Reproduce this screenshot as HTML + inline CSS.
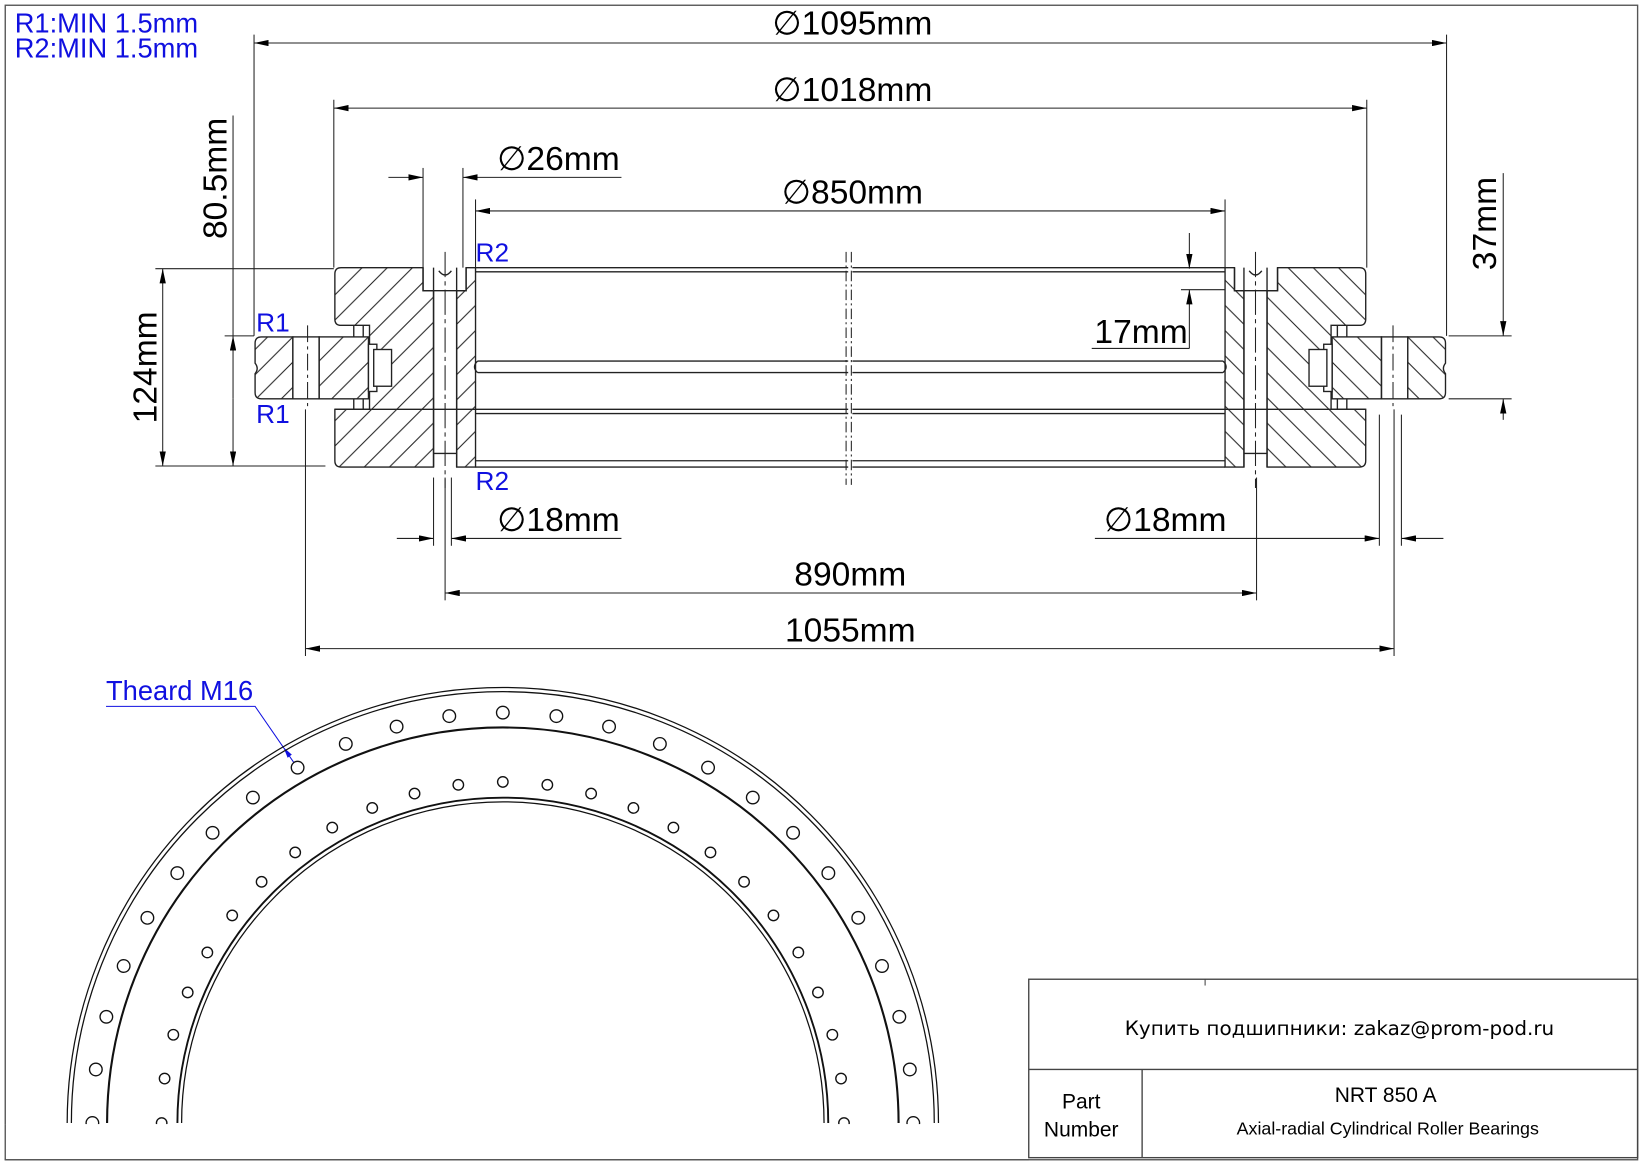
<!DOCTYPE html>
<html><head><meta charset="utf-8"><style>
html,body{margin:0;padding:0;background:#fff;}
svg{display:block;}
text{font-family:"Liberation Sans",sans-serif;}
</style></head><body>
<svg width="1646" height="1165" viewBox="0 0 1568 1110" preserveAspectRatio="none" xmlns="http://www.w3.org/2000/svg">
<defs>
<pattern id="h" patternUnits="userSpaceOnUse" width="24" height="24">
<path d="M-2,26 L26,-2 M-8,8 L8,-8 M16,32 L32,16" stroke="#222" stroke-width="1"/>
</pattern>
<marker id="a" viewBox="0 0 14 6" refX="14" refY="3" markerWidth="14" markerHeight="6" markerUnits="userSpaceOnUse" orient="auto-start-reverse">
<path d="M0,0 L14,3 L0,6 Z" fill="#000"/>
</marker>
<g id="half" stroke="#222" stroke-width="1.3" fill="none">
<path d="M325,255 H403 V277 H413 V445 H325 Q319,445 319,439 V390 H352 V310 H325 Q319,310 319,304 V261 Q319,255 325,255 Z" fill="url(#h)"/>
<path d="M444,255 H453 V445 H435 V277 H444 Z" fill="url(#h)"/>
<path d="M403,255 V277 H444 V255" />
<line x1="413" y1="255" x2="413" y2="445"/>
<line x1="435" y1="255" x2="435" y2="445"/>
<line x1="413" y1="432" x2="435" y2="432"/>
<path d="M418,258 Q424,266 430,258" />
<line x1="319" y1="390" x2="453" y2="390"/>
<path d="M337,310 V321 M337,380 V390 M346,310 V321 M346,380 V390"/>
<path d="M249,321 H279 V380 H249 Q243,380 243,374 V356 Q247,351 243,346 V327 Q243,321 249,321 Z" fill="url(#h)"/>
<rect x="279" y="321" width="25" height="59" fill="#fff"/>
<rect x="304" y="321" width="47" height="59" fill="url(#h)"/>
<rect x="351" y="328" width="8" height="45" fill="#fff"/>
<rect x="356" y="333" width="17" height="35" fill="#fff"/>
<line x1="293" y1="310" x2="293" y2="390" stroke-dasharray="16,4,3,4" stroke-width="1"/>
<line x1="424" y1="240" x2="424" y2="465" stroke-dasharray="24,4,4,4" stroke-width="1"/>
<path d="M453,255 H808 M453,259 H808 M455,344 H808 M455,355 H808 M453,390 H808 M453,394 H808 M453,439 H808 M453,445 H808"/>
<path d="M455,344 Q449,349.5 455,355" />
</g>
</defs>
<rect x="5" y="5" width="1555" height="1100" fill="none" stroke="#555" stroke-width="1.3"/>

<use href="#half"/>
<use href="#half" transform="translate(1620,0) scale(-1,1)"/>
<g stroke="#222" stroke-width="1" stroke-dasharray="10,3,2,3">
<line x1="806" y1="240" x2="806" y2="462"/><line x1="811" y1="240" x2="811" y2="462"/>
</g>

<g stroke="#222" stroke-width="1" fill="none">
<line x1="242" y1="41" x2="1378" y2="41" marker-start="url(#a)" marker-end="url(#a)"/>
<line x1="242" y1="33" x2="242" y2="320"/><line x1="1378" y1="33" x2="1378" y2="320"/>
<line x1="318" y1="103" x2="1302" y2="103" marker-start="url(#a)" marker-end="url(#a)"/>
<line x1="318" y1="95" x2="318" y2="255"/><line x1="1302" y1="95" x2="1302" y2="255"/>
<line x1="370" y1="169" x2="403" y2="169" marker-end="url(#a)"/>
<line x1="592" y1="169" x2="441" y2="169" marker-end="url(#a)"/>
<line x1="403" y1="160" x2="403" y2="255"/><line x1="441" y1="160" x2="441" y2="255"/>
<line x1="453" y1="201" x2="1167" y2="201" marker-start="url(#a)" marker-end="url(#a)"/>
<line x1="453" y1="190" x2="453" y2="255"/><line x1="1167" y1="190" x2="1167" y2="255"/>
<line x1="1133" y1="222" x2="1133" y2="256" marker-end="url(#a)"/>
<line x1="1133" y1="332" x2="1133" y2="276" marker-end="url(#a)"/>
<line x1="1125" y1="276" x2="1167" y2="276"/>
<line x1="1040" y1="332" x2="1133" y2="332"/>
<line x1="1432" y1="165" x2="1432" y2="320" marker-end="url(#a)"/>
<line x1="1432" y1="400" x2="1432" y2="380" marker-end="url(#a)"/>
<line x1="1380" y1="320" x2="1440" y2="320"/><line x1="1380" y1="380" x2="1440" y2="380"/>
<line x1="222" y1="110" x2="222" y2="320"/>
<line x1="222" y1="380" x2="222" y2="320" marker-end="url(#a)"/>
<line x1="222" y1="380" x2="222" y2="444" marker-end="url(#a)"/>
<line x1="214" y1="320" x2="242" y2="320"/>
<line x1="155" y1="256" x2="155" y2="444" marker-start="url(#a)" marker-end="url(#a)"/>
<line x1="148" y1="256" x2="318" y2="256"/><line x1="148" y1="444" x2="310" y2="444"/>
<line x1="378" y1="513" x2="413" y2="513" marker-end="url(#a)"/>
<line x1="592" y1="513" x2="430" y2="513" marker-end="url(#a)"/>
<line x1="413" y1="455" x2="413" y2="520"/><line x1="430" y1="455" x2="430" y2="520"/>
<line x1="1043" y1="513" x2="1314" y2="513" marker-end="url(#a)"/>
<line x1="1375" y1="513" x2="1335" y2="513" marker-end="url(#a)"/>
<line x1="1314" y1="395" x2="1314" y2="520"/><line x1="1335" y1="395" x2="1335" y2="520"/>
<line x1="424" y1="565" x2="1197" y2="565" marker-start="url(#a)" marker-end="url(#a)"/>
<line x1="424" y1="455" x2="424" y2="572"/><line x1="1197" y1="455" x2="1197" y2="572"/>
<line x1="291" y1="618" x2="1328" y2="618" marker-start="url(#a)" marker-end="url(#a)"/>
<line x1="291" y1="390" x2="291" y2="625"/><line x1="1328" y1="390" x2="1328" y2="625"/>
</g>
<g font-size="32" fill="#000">
<text x="812" y="33" text-anchor="middle">∅1095mm</text>
<text x="812" y="96" text-anchor="middle">∅1018mm</text>
<text x="532" y="162" text-anchor="middle">∅26mm</text>
<text x="812" y="194" text-anchor="middle">∅850mm</text>
<text x="1087" y="327" text-anchor="middle">17mm</text>
<text x="532" y="506" text-anchor="middle">∅18mm</text>
<text x="1110" y="506" text-anchor="middle">∅18mm</text>
<text x="810" y="558" text-anchor="middle">890mm</text>
<text x="810" y="611" text-anchor="middle">1055mm</text>
<text transform="translate(216,170) rotate(-90)" text-anchor="middle">80.5mm</text>
<text transform="translate(149,350) rotate(-90)" text-anchor="middle">124mm</text>
<text transform="translate(1425,213) rotate(-90)" text-anchor="middle">37mm</text>
</g>
<g font-size="26" fill="#1010e0">
<text x="14" y="31">R1:MIN 1.5mm</text>
<text x="14" y="55">R2:MIN 1.5mm</text>
<text x="101" y="667">Theard M16</text>
</g>
<g font-size="25" fill="#1010e0">
<text x="453" y="249">R2</text>
<text x="453" y="467">R2</text>
<text x="244" y="316">R1</text>
<text x="244" y="403">R1</text>
</g>
<path d="M101,673 H243 L283,731" stroke="#1010e0" stroke-width="1" fill="none"/>
<path d="M270,712 L278,719 L274,722 Z" fill="#1010e0"/>

<g stroke="#111" fill="none">
<path d="M64,1070 A415,415 0 0 1 894,1070" stroke-width="1.2"/>
<path d="M68,1070 A411,411 0 0 1 890,1070" stroke-width="1.2"/>
<path d="M102,1070 A377,377 0 0 1 856,1070" stroke-width="2"/>
<path d="M169,1070 A310,310 0 0 1 789,1070" stroke-width="1.8"/>
<path d="M173,1070 A306,306 0 0 1 785,1070" stroke-width="1.2"/>
<g stroke-width="1.3" fill="#fff">
<circle cx="870.0" cy="1070.0" r="6"/><circle cx="866.7" cy="1019.0" r="6"/><circle cx="856.7" cy="968.8" r="6"/><circle cx="840.2" cy="920.4" r="6"/><circle cx="817.6" cy="874.5" r="6"/><circle cx="789.1" cy="831.9" r="6"/><circle cx="755.5" cy="793.5" r="6"/><circle cx="717.1" cy="759.9" r="6"/><circle cx="674.5" cy="731.4" r="6"/><circle cx="628.6" cy="708.8" r="6"/><circle cx="580.2" cy="692.3" r="6"/><circle cx="530.0" cy="682.3" r="6"/><circle cx="479.0" cy="679.0" r="6"/><circle cx="428.0" cy="682.3" r="6"/><circle cx="377.8" cy="692.3" r="6"/><circle cx="329.4" cy="708.8" r="6"/><circle cx="283.5" cy="731.4" r="6"/><circle cx="240.9" cy="759.9" r="6"/><circle cx="202.5" cy="793.5" r="6"/><circle cx="168.9" cy="831.9" r="6"/><circle cx="140.4" cy="874.5" r="6"/><circle cx="117.8" cy="920.4" r="6"/><circle cx="101.3" cy="968.8" r="6"/><circle cx="91.3" cy="1019.0" r="6"/><circle cx="88.0" cy="1070.0" r="6"/>
<circle cx="804.0" cy="1070.0" r="5"/><circle cx="801.2" cy="1027.6" r="5"/><circle cx="792.9" cy="985.9" r="5"/><circle cx="779.2" cy="945.6" r="5"/><circle cx="760.5" cy="907.5" r="5"/><circle cx="736.8" cy="872.2" r="5"/><circle cx="708.8" cy="840.2" r="5"/><circle cx="676.8" cy="812.2" r="5"/><circle cx="641.5" cy="788.5" r="5"/><circle cx="603.4" cy="769.8" r="5"/><circle cx="563.1" cy="756.1" r="5"/><circle cx="521.4" cy="747.8" r="5"/><circle cx="479.0" cy="745.0" r="5"/><circle cx="436.6" cy="747.8" r="5"/><circle cx="394.9" cy="756.1" r="5"/><circle cx="354.6" cy="769.8" r="5"/><circle cx="316.5" cy="788.5" r="5"/><circle cx="281.2" cy="812.2" r="5"/><circle cx="249.2" cy="840.2" r="5"/><circle cx="221.2" cy="872.2" r="5"/><circle cx="197.5" cy="907.5" r="5"/><circle cx="178.8" cy="945.6" r="5"/><circle cx="165.1" cy="985.9" r="5"/><circle cx="156.8" cy="1027.6" r="5"/><circle cx="154.0" cy="1070.0" r="5"/>
</g>
</g>
<rect x="0" y="1071" width="980" height="33" fill="#fff"/>
<line x1="5" y1="1071" x2="5" y2="1105" stroke="#555" stroke-width="1.3"/>
<line x1="5" y1="1105" x2="980" y2="1105" stroke="#555" stroke-width="1.3"/>

<g stroke="#444" stroke-width="1.3" fill="none">
<rect x="980" y="933" width="580" height="170"/>
<line x1="980" y1="1019" x2="1560" y2="1019"/>
<line x1="1088" y1="1019" x2="1088" y2="1103"/>
<line x1="1148" y1="933" x2="1148" y2="939" stroke-width="1"/>
</g>
<text x="1276" y="986" text-anchor="middle" font-size="19" style="font-family:'DejaVu Sans',sans-serif">Купить подшипники: zakaz@prom-pod.ru</text>
<text x="1030" y="1056" text-anchor="middle" font-size="20">Part</text>
<text x="1030" y="1083" text-anchor="middle" font-size="20">Number</text>
<text x="1320" y="1050" text-anchor="middle" font-size="20">NRT 850 A</text>
<text x="1322" y="1081" text-anchor="middle" font-size="17">Axial-radial Cylindrical Roller Bearings</text>
</svg>
</body></html>
